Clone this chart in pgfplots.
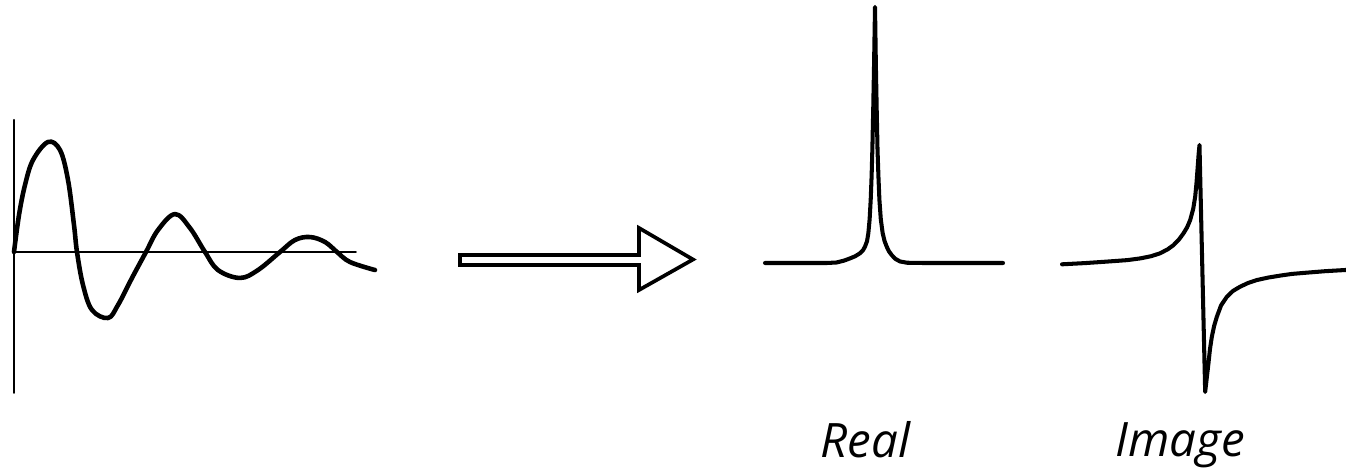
\documentclass[border=0pt]{standalone}
\usepackage{pgfplots}
\pgfplotsset{compat=1.18}
\usepackage{fontspec}
\setmainfont{Open Sans}

\begin{document}
\begin{tikzpicture}
\useasboundingbox (0,0) rectangle (13.46,4.68);
\pgfplotsset{spec/.style={hide axis, scale only axis, clip=false,
    anchor=south west, line join=round, line cap=round}}

% free induction decay: time signal
\begin{axis}[spec, at={(0.14cm,0.73cm)}, width=3.8cm, height=2.75cm,
    xmin=0, xmax=3.8, ymin=-1.3, ymax=1.2]
  \addplot[black, line width=0.6pt] coordinates {(0,-1.28) (0,1.2)};
  \addplot[black, line width=0.5pt] coordinates {(0,0) (3.42,0)};
  \addplot[black, line width=1.3pt, smooth, tension=0.6] coordinates {
    (0,0) (0.05,0.336) (0.11,0.609) (0.19,0.836) (0.34,1.0) (0.46,0.927)
    (0.54,0.655) (0.60,0.245) (0.63,0) (0.69,-0.30) (0.78,-0.527)
    (0.94,-0.60) (1.04,-0.482) (1.18,-0.236) (1.32,0) (1.44,0.20)
    (1.61,0.345) (1.76,0.218) (1.91,0) (2.04,-0.164) (2.26,-0.236)
    (2.44,-0.164) (2.66,0) (2.81,0.109) (2.96,0.136) (3.11,0.091)
    (3.23,0) (3.36,-0.091) (3.61,-0.164)};
\end{axis}

% transform arrow
\draw[line width=1.05pt, line join=miter]
  (4.60,2.13) -- (6.39,2.13) -- (6.39,2.40) -- (6.93,2.085)
  -- (6.39,1.78) -- (6.39,2.03) -- (4.60,2.03) -- cycle;

% absorption (real part)
\begin{axis}[spec, at={(7.65cm,2.05cm)}, width=2.38cm, height=2.56cm,
    xmin=-27.5, xmax=32, ymin=0, ymax=1]
  \addplot[black, line width=1.15pt] coordinates {
    (-27.5,0) (-12,0) (-9.6,0.002) (-7.8,0.009) (-6.25,0.018) (-5,0.026)
    (-3.75,0.038) (-3,0.050) (-2.5,0.064) (-2,0.085) (-1.67,0.116)
    (-1.35,0.170) (-1.08,0.246) (-0.85,0.340) (-0.67,0.441) (-0.45,0.600)
    (-0.25,0.767) (0,1.0)
    (0.22,0.767) (0.42,0.600) (0.63,0.441) (0.85,0.340) (1.1,0.246)
    (1.45,0.170) (1.92,0.116) (2.4,0.085) (2.92,0.064) (3.5,0.045)
    (4.17,0.031) (5.1,0.016) (6.25,0.006) (8,0.001) (12,0) (32,0)};
\end{axis}

% dispersion (imaginary part)
\begin{axis}[spec, at={(10.62cm,0.77cm)}, width=2.84cm, height=2.46cm,
    xmin=-46.77, xmax=48, ymin=-0.5, ymax=0.5]
  \addplot[black, line width=1.15pt] coordinates {
    (-46.77,0.015) (-39,0.020) (-31.77,0.026) (-25,0.032) (-20.67,0.039)
    (-17,0.048) (-14,0.060) (-11.5,0.076) (-9.57,0.093) (-7.8,0.115)
    (-6.23,0.141) (-5,0.166) (-4,0.195) (-3,0.240) (-2.33,0.290)
    (-1.9,0.345) (-1.57,0.398) (-1.2,0.460) (-0.9,0.5)
    (1.0,-0.504) (1.5,-0.450) (2.1,-0.387) (2.6,-0.330) (3.23,-0.279)
    (4,-0.235) (4.9,-0.198) (6.3,-0.152) (8.23,-0.117) (10.3,-0.093)
    (12.67,-0.076) (15.3,-0.061) (18.23,-0.049) (22,-0.039) (26,-0.031)
    (30,-0.024) (34.9,-0.019) (41,-0.013) (48,-0.008)};
\end{axis}

\node[anchor=base, font=\itshape\fontsize{13.5}{16}\selectfont, inner sep=0pt]
  at (8.655,0.10) {Real};
\node[anchor=base, font=\itshape\fontsize{13.5}{16}\selectfont, inner sep=0pt]
  at (11.80,0.12) {Image};
\end{tikzpicture}
\end{document}
